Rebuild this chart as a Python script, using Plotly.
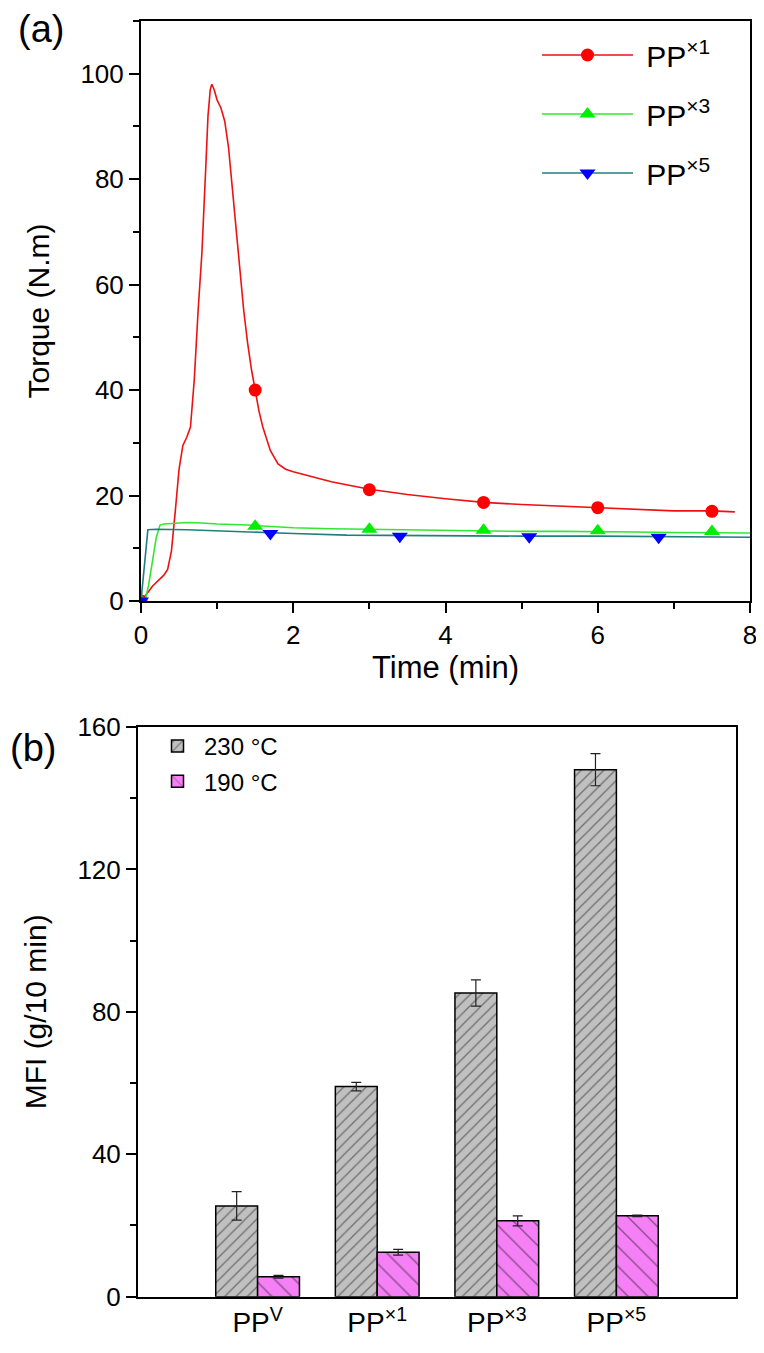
import plotly.graph_objects as go

# ---------------- Panel (a): torque vs time ----------------
t_x1 = [0, 0.05, 0.1, 0.15, 0.2, 0.25, 0.3, 0.35, 0.4, 0.45, 0.5, 0.55, 0.6, 0.65,
        0.7, 0.75, 0.8, 0.85, 0.88, 0.91, 0.93, 0.96, 1.0, 1.05, 1.1, 1.15, 1.2,
        1.25, 1.3, 1.35, 1.4, 1.45, 1.5, 1.55, 1.6, 1.7, 1.8, 1.9, 2.0, 2.5, 3.0,
        3.5, 4.0, 4.5, 5.0, 5.5, 6.0, 6.5, 7.0, 7.5, 7.8]
torque_x1 = [0, 0.8, 1.8, 2.8, 3.5, 4.2, 4.9, 6.0, 9.5, 17, 25, 29.5, 31, 33,
             42, 55, 66, 82, 92, 97, 98, 97, 95, 93.5, 91, 86, 78,
             70, 62, 55, 49, 44, 40, 36, 33, 28.5, 26, 25, 24.5, 22.6, 21.2,
             20.2, 19.4, 18.7, 18.3, 18.0, 17.8, 17.5, 17.1, 17.1, 16.9]

t_x3 = [0, 0.06, 0.1, 0.15, 0.2, 0.25, 0.3, 0.5, 0.6, 0.8, 1.0, 1.4, 2.0, 2.5,
        3.0, 3.5, 4.0, 4.5, 5.0, 5.5, 6.0, 6.5, 7.0, 7.5, 8.0]
torque_x3 = [0, 0.5, 3, 7.5, 12, 14.4, 14.6, 14.8, 14.9, 14.8, 14.6, 14.4, 13.9, 13.7,
             13.6, 13.4, 13.3, 13.3, 13.2, 13.2, 13.2, 13.1, 13.0, 13.0, 12.9]

t_x5 = [0, 0.03, 0.06, 0.09, 0.2, 0.6, 1.0, 1.4, 2.0, 2.7, 3.5, 4.0, 5.0, 6.0, 7.0, 8.0]
torque_x5 = [0, 4, 9, 13.5, 13.6, 13.5, 13.3, 13.0, 12.8, 12.5, 12.4, 12.3, 12.3, 12.3, 12.2, 12.1]

mark_t_x1 = [0, 1.5, 3, 4.5, 6, 7.5]
mark_v_x1 = [0, 40, 21.1, 18.7, 17.7, 17.0]
mark_t_x3 = [0, 1.5, 3, 4.5, 6, 7.5]
mark_v_x3 = [0, 14.2, 13.6, 13.4, 13.3, 13.2]
mark_t_x5 = [0, 1.7, 3.4, 5.1, 6.8]
mark_v_x5 = [0, 12.8, 12.3, 12.2, 12.1]

# ---------------- Panel (b): MFI bars ----------------
samples = ["PP<sup>V</sup>", "PP<sup>×1</sup>", "PP<sup>×3</sup>", "PP<sup>×5</sup>"]
mfi_230 = [25.5, 59.0, 85.3, 148.0]
err_230 = [4.0, 1.2, 3.7, 4.5]
mfi_190 = [5.6, 12.5, 21.3, 22.7]
err_190 = [0.4, 0.8, 1.4, 0.2]

FONT = "Liberation Sans, Arial, sans-serif"
PAGE_OFF = 8            # default body margin of the page
W, H = 764 - PAGE_OFF, 1353 - PAGE_OFF


def fx(px):
    return (px - PAGE_OFF) / W


def fy(py):
    return 1 - (py - PAGE_OFF) / H


fig = go.Figure()

series = [
    ("\u00a0PP<sup>×1</sup>", t_x1, torque_x1, mark_t_x1, mark_v_x1, "#ee1111", "#ff0000", "circle", 13),
    ("\u00a0PP<sup>×3</sup>", t_x3, torque_x3, mark_t_x3, mark_v_x3, "#33e633", "#00ee00", "triangle-up", 14),
    ("\u00a0PP<sup>×5</sup>", t_x5, torque_x5, mark_t_x5, mark_v_x5, "#1f7f80", "#0000ff", "triangle-down", 14),
]
for i, (name, tx, ty, mx, my, lc, mc, sym, ms) in enumerate(series):
    fig.add_trace(go.Scatter(x=tx, y=ty, mode="lines", line=dict(color=lc, width=1.6),
                             showlegend=False, xaxis="x", yaxis="y", hoverinfo="skip"))
    fig.add_trace(go.Scatter(x=mx, y=my, mode="markers",
                             marker=dict(color=mc, symbol=sym, size=ms, line=dict(width=0)),
                             showlegend=False, xaxis="x", yaxis="y"))
    fig.add_trace(go.Scatter(x=[None], y=[None], mode="lines+markers", name=name,
                             line=dict(color=lc, width=1.6),
                             marker=dict(color=mc, symbol=sym, size=ms, line=dict(width=0)),
                             legend="legend", legendgroup=f"g{i}", xaxis="x", yaxis="y"))

fig.add_trace(go.Bar(x=samples, y=mfi_230, name="230 °C", xaxis="x2", yaxis="y2",
                     marker=dict(color="#c0c0c0", line=dict(color="black", width=1.5),
                                 pattern=dict(shape="/", fgcolor="#1a1a1a", bgcolor="#c0c0c0",
                                              size=8, solidity=0.16, fillmode="overlay")),
                     error_y=dict(type="data", array=err_230, color="#222222", thickness=1.2, width=5),
                     legend="legend2", legendgroup="b230"))
fig.add_trace(go.Bar(x=samples, y=mfi_190, name="190 °C", xaxis="x2", yaxis="y2",
                     marker=dict(color="#f57ff5", line=dict(color="black", width=1.5),
                                 pattern=dict(shape="\\", fgcolor="#1a1a1a", bgcolor="#f57ff5",
                                              size=14, solidity=0.1, fillmode="overlay")),
                     error_y=dict(type="data", array=err_190, color="#222222", thickness=1.2, width=5),
                     legend="legend2", legendgroup="b190"))

axis_common = dict(showline=True, linecolor="black", linewidth=2, mirror=True,
                   showgrid=False, zeroline=False, ticks="outside", ticklen=10,
                   tickwidth=1.5, tickcolor="black", automargin=False,
                   tickfont=dict(family=FONT, size=26, color="black"))

fig.update_layout(
    width=W, height=H,
    margin=dict(l=0, r=0, t=0, b=0, autoexpand=False),
    paper_bgcolor="white", plot_bgcolor="white",
    font=dict(family=FONT, color="black"),
    barmode="group", bargap=0.3, bargroupgap=0,
    xaxis=dict(axis_common, domain=[fx(141), fx(750)], anchor="y", range=[0, 8],
               tick0=0, dtick=2,
               minor=dict(dtick=1, ticks="outside", ticklen=6, tickwidth=1.5, tickcolor="black"),
               title=dict(text="Time (min)", font=dict(family=FONT, size=31), standoff=0)),
    yaxis=dict(axis_common, domain=[fy(601), fy(21)], anchor="x", range=[0, 110],
               tick0=0, dtick=20,
               minor=dict(dtick=10, ticks="outside", ticklen=6, tickwidth=1.5, tickcolor="black"),
               title=dict(text="Torque (N.m)", font=dict(family=FONT, size=30), standoff=22)),
    xaxis2=dict(axis_common, domain=[fx(138), fx(736)], anchor="y2", type="category",
                range=[-1, 4], ticks="", tickfont=dict(family=FONT, size=28, color="black")),
    yaxis2=dict(axis_common, domain=[fy(1296.7), fy(727)], anchor="x2", range=[0, 160],
                tick0=0, dtick=40,
                minor=dict(dtick=20, ticks="outside", ticklen=6, tickwidth=1.5, tickcolor="black"),
                title=dict(text="MFI (g/10 min)", font=dict(family=FONT, size=30), standoff=22)),
    legend=dict(x=fx(537), y=fy(29), xanchor="left", yanchor="top",
                bgcolor="rgba(0,0,0,0)", borderwidth=0, tracegroupgap=17,
                font=dict(family=FONT, size=30, color="black"), itemwidth=91),
    legend2=dict(x=fx(151), y=fy(724), xanchor="left", yanchor="top",
                 bgcolor="rgba(0,0,0,0)", borderwidth=0, tracegroupgap=1, itemwidth=43,
                 font=dict(family=FONT, size=24, color="black")),
    annotations=[
        dict(text="(a)", xref="paper", yref="paper", x=fx(16), y=fy(29),
             xanchor="left", yanchor="middle", showarrow=False,
             font=dict(family=FONT, size=38, color="black")),
        dict(text="(b)", xref="paper", yref="paper", x=fx(8), y=fy(748),
             xanchor="left", yanchor="middle", showarrow=False,
             font=dict(family=FONT, size=38, color="black")),
    ],
)

fig.write_html("out.html")
